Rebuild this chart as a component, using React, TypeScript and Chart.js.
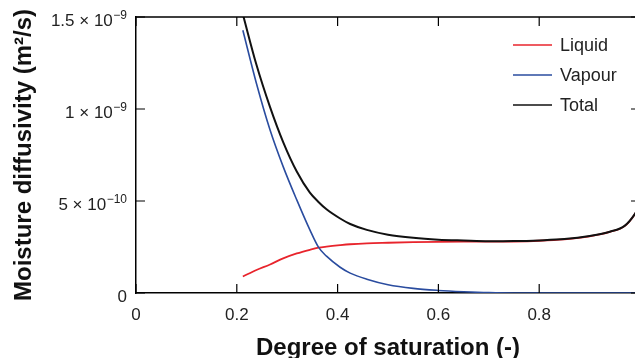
import React, { useEffect, useRef } from 'react';
import { Chart, registerables } from 'chart.js';

Chart.register(...registerables);

// Degree of saturation (-)
const saturation = [0.212, 0.239, 0.266, 0.292, 0.319, 0.345, 0.362, 0.378, 0.405, 0.425, 0.458, 0.5, 0.55, 0.6, 0.65, 0.7, 0.75, 0.8, 0.85, 0.9, 0.94, 0.97, 0.99, 1.0];
// Moisture diffusivity, in units of 10^-10 m²/s
const liquid = [0.9, 1.25, 1.55, 1.88, 2.15, 2.35, 2.46, 2.52, 2.6, 2.65, 2.7, 2.73, 2.76, 2.78, 2.79, 2.79, 2.8, 2.84, 2.92, 3.08, 3.32, 3.65, 4.3, 4.8];
const vapour = [14.28, 11.39, 8.86, 6.87, 5.06, 3.43, 2.49, 2.0, 1.4, 1.08, 0.75, 0.45, 0.25, 0.14, 0.07, 0.02, 0, 0, 0, 0, 0, 0, 0, 0];
const total = [15.15, 12.4, 10.1, 8.2, 6.6, 5.45, 4.95, 4.55, 4.05, 3.75, 3.43, 3.17, 3.0, 2.9, 2.85, 2.81, 2.82, 2.86, 2.93, 3.1, 3.33, 3.66, 4.3, 4.8];

const seriesNames = ['Liquid', 'Vapour', 'Total'];
const seriesColors = ['#e8242c', '#2a4c9f', '#111111'];
const xTickValues = [0, 0.2, 0.4, 0.6, 0.8, 1];
const yTickValues = [0, 5, 10, 15];
const yTickMantissa = ['0', '5 × 10', '1 × 10', '1.5 × 10'];
const yTickExponent = ['', '−10', '−9', '−9'];
const xTitle = 'Degree of saturation (-)';
const yTitle = 'Moisture diffusivity (m²/s)';

const FONT = '"Liberation Sans", Arial, Helvetica, sans-serif';
const CANVAS_W = 660;
const CANVAS_H = 368;

const framePlugin = {
  id: 'frameTicksLegend',
  afterDraw(chart: any) {
    const { ctx, chartArea } = chart;
    const xs = chart.scales.x;
    const ys = chart.scales.y;
    const { left, right, top, bottom } = chartArea;
    ctx.save();
    ctx.strokeStyle = '#000';
    ctx.lineWidth = 1.5;
    // top and right frame
    ctx.beginPath();
    ctx.moveTo(left, top);
    ctx.lineTo(right, top);
    ctx.lineTo(right, bottom);
    ctx.stroke();
    // inward tick marks
    const tl = 9;
    ctx.lineWidth = 1.2;
    ctx.beginPath();
    xTickValues.forEach((v) => {
      const px = xs.getPixelForValue(v);
      ctx.moveTo(px, bottom);
      ctx.lineTo(px, bottom - tl);
      ctx.moveTo(px, top);
      ctx.lineTo(px, top + tl);
    });
    yTickValues.forEach((v) => {
      const py = ys.getPixelForValue(v);
      ctx.moveTo(left, py);
      ctx.lineTo(left + tl, py);
      ctx.moveTo(right, py);
      ctx.lineTo(right - tl, py);
    });
    ctx.stroke();
    // y tick labels with superscript exponents
    ctx.fillStyle = '#222';
    ctx.textBaseline = 'alphabetic';
    const labelRight = left - 9;
    yTickValues.forEach((v, i) => {
      const py = ys.getPixelForValue(v);
      const base = py + 8.5;
      ctx.font = `12px ${FONT}`;
      const exp = yTickExponent[i];
      const ew = exp ? ctx.measureText(exp).width : 0;
      if (exp) {
        ctx.textAlign = 'left';
        ctx.fillText(exp, labelRight - ew, base - 6.5);
      }
      ctx.font = `17px ${FONT}`;
      ctx.textAlign = 'right';
      ctx.fillText(yTickMantissa[i], labelRight - ew - (exp ? 0.5 : 0), base);
    });
    // legend
    ctx.font = `18px ${FONT}`;
    ctx.textBaseline = 'middle';
    ctx.textAlign = 'left';
    const lx = right - 127;
    const ly = top + 28;
    seriesNames.forEach((name, i) => {
      const y = ly + i * 30;
      ctx.strokeStyle = seriesColors[i];
      ctx.lineWidth = 1.5;
      ctx.beginPath();
      ctx.moveTo(lx, y);
      ctx.lineTo(lx + 39, y);
      ctx.stroke();
      ctx.fillStyle = '#222';
      ctx.fillText(name, lx + 47, y + 1);
    });
    ctx.restore();
  },
};

export default function App() {
  const canvasRef = useRef<HTMLCanvasElement | null>(null);

  useEffect(() => {
    if (!canvasRef.current) return;
    const seriesValues = [liquid, vapour, total];
    const widths = [1.8, 1.6, 2];
    const orders = [2, 1, 0];
    const chart = new Chart(canvasRef.current, {
      type: 'line',
      data: {
        datasets: seriesNames.map((name, i) => ({
          label: name,
          data: saturation.map((s, j) => ({ x: s, y: seriesValues[i][j] })),
          borderColor: seriesColors[i],
          backgroundColor: seriesColors[i],
          borderWidth: widths[i],
          pointRadius: 0,
          fill: false,
          cubicInterpolationMode: 'monotone' as const,
          order: orders[i],
        })),
      },
      options: {
        animation: false,
        responsive: false,
        devicePixelRatio: 1,
        layout: { padding: { top: 17, right: CANVAS_W - 640, left: 0, bottom: 0 } },
        plugins: {
          legend: { display: false },
          tooltip: { enabled: false },
        },
        scales: {
          x: {
            type: 'linear',
            min: 0,
            max: 1,
            afterFit: (scale: any) => {
              scale.height = CANVAS_H - 293;
            },
            afterBuildTicks: (scale: any) => {
              scale.ticks = xTickValues.map((v) => ({ value: v }));
            },
            grid: { display: false, drawTicks: false },
            border: { display: true, color: '#000', width: 1.5 },
            ticks: {
              autoSkip: false,
              maxRotation: 0,
              padding: 12,
              color: '#222',
              font: { family: FONT, size: 17 },
              callback: (v: any) => String(Number(Number(v).toFixed(1))),
            },
            title: {
              display: true,
              text: xTitle,
              color: '#111',
              font: { family: FONT, size: 24, weight: 'bold', lineHeight: 1.2 },
              padding: { top: 0, bottom: 5 },
            },
          },
          y: {
            type: 'linear',
            min: 0,
            max: 15,
            afterFit: (scale: any) => {
              scale.width = 136;
            },
            afterBuildTicks: (scale: any) => {
              scale.ticks = yTickValues.map((v) => ({ value: v }));
            },
            grid: { display: false, drawTicks: false },
            border: { display: true, color: '#000', width: 1.5 },
            ticks: { display: false },
            title: {
              display: true,
              text: yTitle,
              color: '#111',
              font: { family: FONT, size: 24, weight: 'bold', lineHeight: 1.2 },
              padding: { top: 10, bottom: 0 },
            },
          },
        },
      },
      plugins: [framePlugin],
    } as any);
    return () => chart.destroy();
  }, []);

  return (
    <div
      style={{
        position: 'fixed',
        left: 0,
        top: 0,
        width: 635,
        height: 358,
        overflow: 'hidden',
        background: '#fff',
      }}
    >
      <canvas
        ref={canvasRef}
        width={CANVAS_W}
        height={CANVAS_H}
        style={{ display: 'block', width: CANVAS_W, height: CANVAS_H }}
      />
    </div>
  );
}
